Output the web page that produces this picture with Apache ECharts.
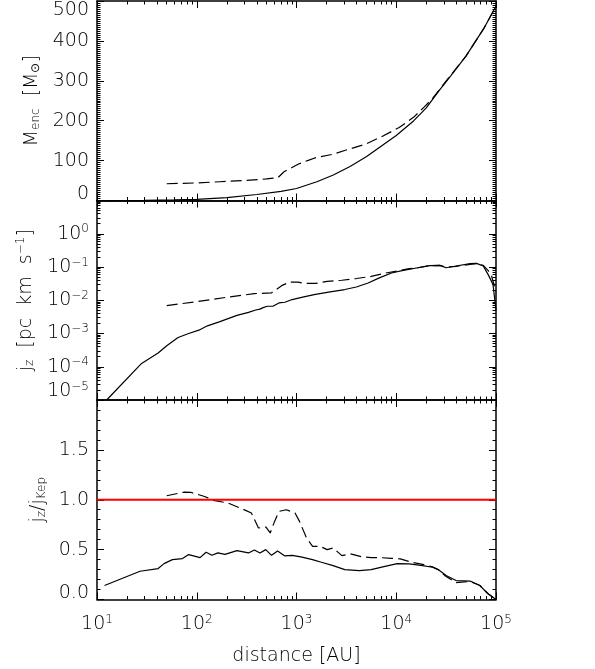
<!DOCTYPE html>
<html><head><meta charset="utf-8">
<script src="https://cdn.jsdelivr.net/npm/echarts@6/dist/echarts.min.js"></script>
<style>html,body{margin:0;padding:0;background:#fff}#c{width:595px;height:669px}</style>
</head><body><div id="c"></div>
<script>
// ---------------- data ----------------
// x: distance [AU]
const xTickValues = [10, 100, 1000, 10000, 100000];

// Panel 1: enclosed mass [Msun]
const mencTicks = [0, 100, 200, 300, 400, 500];
const xMencSolid = [12, 30, 60, 100, 200, 400, 700, 1000, 1600, 2340, 3440, 5050, 7400, 10000, 15000, 20000, 27000, 35000, 50000, 75000, 100000];
const mencSolid  = [0, 0.5, 1.5, 3, 7, 15, 23, 30, 47, 64, 85, 110, 140, 163, 200, 232, 276, 312, 362, 430, 487];
const xMencDashed = [50, 100, 170, 300, 500, 650, 750, 1035, 1290, 1550, 2330, 3390, 4910, 7130, 10700, 15000, 19000, 23000, 30000, 50000, 75000, 100000];
const mencDashed  = [42, 44, 47, 50, 54, 57, 72, 91, 100, 107, 116, 129, 141, 160, 183, 209, 234, 255, 292, 362, 430, 487];

// Panel 2: j_z [pc km/s]
const jzTicks = [1e-5, 1e-4, 1e-3, 1e-2, 1e-1, 1, 10];
const jzLabelTicks = [1e-5, 1e-4, 1e-3, 1e-2, 1e-1, 1];
const xJzSolid = [12.5, 28, 41, 50, 65, 83, 105, 128, 168, 253, 330, 390, 430, 463, 510, 580, 667, 764, 904, 1183, 1549, 2173, 3048, 3981, 5224, 6855, 8974, 11750, 16480, 21580, 27300, 31600, 39800, 55000, 63800, 74500, 83200, 93300, 100000];
const jzSolid  = [1.0e-5, 1.26e-4, 2.6e-4, 4.3e-4, 7.6e-4, 1.0e-3, 1.26e-3, 1.7e-3, 2.24e-3, 3.5e-3, 4.3e-3, 5.1e-3, 5.4e-3, 6.0e-3, 6.6e-3, 6.6e-3, 8.3e-3, 8.7e-3, 1.05e-2, 1.26e-2, 1.5e-2, 1.78e-2, 2.1e-2, 2.5e-2, 3.3e-2, 4.8e-2, 6.6e-2, 7.9e-2, 9.5e-2, 0.11, 0.112, 0.095, 0.107, 0.126, 0.129, 0.107, 0.060, 0.030, 0.005];
const xJzDashed = [50, 100, 200, 376, 450, 560, 710, 850, 1035, 1220, 1550, 2030, 2850, 3980, 5600, 7830, 10960, 13500, 16480, 21580, 27300, 31600, 39800, 55000, 63800, 74500, 83200, 90000, 100000];
const jzDashed  = [6.9e-3, 9.1e-3, 1.23e-2, 1.58e-2, 1.62e-2, 1.66e-2, 2.75e-2, 3.5e-2, 3.5e-2, 3.2e-2, 3.2e-2, 3.7e-2, 4.0e-2, 4.5e-2, 5.2e-2, 6.6e-2, 7.9e-2, 8.9e-2, 9.5e-2, 0.11, 0.112, 0.10, 0.105, 0.12, 0.126, 0.112, 0.079, 0.056, 0.018];

// Panel 3: j_z / j_Kep
const ratioTicks = [0, 0.5, 1.0, 1.5, 2.0];
const xRatioSolid = [11.9, 27, 41, 47, 57, 72, 83, 108, 124, 142, 163, 192, 253, 330, 378, 430, 492, 562, 646, 764, 904, 1107, 1445, 1778, 2328, 3048, 4266, 5598, 7328, 10230, 13490, 17620, 23100, 26300, 31600, 39800, 55000, 69000, 83000, 100000];
const ratioSolid  = [0.14, 0.283, 0.31, 0.36, 0.40, 0.41, 0.45, 0.42, 0.473, 0.443, 0.467, 0.453, 0.49, 0.467, 0.497, 0.467, 0.50, 0.443, 0.487, 0.437, 0.443, 0.427, 0.40, 0.373, 0.34, 0.30, 0.29, 0.30, 0.327, 0.36, 0.357, 0.343, 0.323, 0.30, 0.24, 0.19, 0.185, 0.14, 0.057, 0.0];
const xRatioDashed = [50, 75, 88, 120, 147, 206, 288, 353, 416, 492, 545, 603, 667, 789, 967, 1072, 1260, 1450, 1720, 2030, 2330, 2850, 3470, 4570, 5600, 6860, 8970, 10960, 14390, 18880, 23100, 26300, 31600, 39800, 55000, 69000, 83000, 100000];
const ratioDashed  = [1.04, 1.077, 1.073, 1.033, 0.993, 0.967, 0.907, 0.867, 0.717, 0.727, 0.667, 0.783, 0.883, 0.90, 0.867, 0.783, 0.617, 0.533, 0.533, 0.50, 0.517, 0.44, 0.457, 0.427, 0.42, 0.42, 0.413, 0.407, 0.373, 0.35, 0.327, 0.30, 0.23, 0.17, 0.18, 0.14, 0.06, 0.0];
const kepX = [10, 100000];
const kepY = [1.0, 1.0];

// ---------------- helpers ----------------
const FONT = 'DejaVu Sans';
const FW = 200;
const FS = 19;
const SS = 12;
const TXT = '#000';
const zip = (a, b) => a.map((v, i) => [v, b[i]]);
function logMinors(lo, hi) {
  const out = [];
  for (let e = lo; e < hi; e++) for (let k = 2; k <= 9; k++) out.push(Number((k * Math.pow(10, e)).toPrecision(6)));
  return out;
}
function linMinors(majors, n) {
  const out = [];
  for (let i = 0; i < majors.length - 1; i++) {
    const s = (majors[i + 1] - majors[i]) / n;
    for (let k = 1; k < n; k++) out.push(Number((majors[i] + k * s).toPrecision(8)));
  }
  return out;
}
const base = { fontFamily: FONT, fontWeight: FW, color: TXT };
const rich = {
  b:  Object.assign({ fontSize: FS }, base),
  s:  Object.assign({ fontSize: SS, verticalAlign: 'top', padding: [0, 0, 9, 0] }, base),
  bl: Object.assign({ fontSize: FS, padding: [0, 0, 18, 0] }, base),
  sl: Object.assign({ fontSize: SS, padding: [0, 0, 27, 0] }, base),
  n:  Object.assign({ fontSize: FS }, base),
  lo: Object.assign({ fontSize: FS, padding: [0, 0, 13, 0] }, base),
  hi: Object.assign({ fontSize: FS, padding: [18, 0, 0, 0] }, base),
  sub: Object.assign({ fontSize: SS, verticalAlign: 'bottom', padding: [8, 0, 0, 0] }, base),
  sup: Object.assign({ fontSize: SS, verticalAlign: 'top', padding: [0, 0, 9, 0] }, base)
};
function expStr(v) { const e = Math.round(Math.log10(v)); return (e < 0 ? '\u2212' + (-e) : '' + e); }

const rects = [
  { left: 97, right: 99, top: 1, height: 199.5 },
  { left: 97, right: 99, top: 200.5, height: 199.5 },
  { left: 97, right: 99, top: 400, height: 199.5 }
];
// grids 0-2: major ticks + data; grids 3-5: same rectangles, minor ticks only
const grids = rects.concat(rects.map(r => Object.assign({}, r)));
const xMinor = logMinors(1, 5);

function axisDef(gi, type, min, max, position, isMajor, ticks) {
  return {
    gridIndex: gi, type: type, min: min, max: max, position: position,
    axisLine: { show: isMajor, onZero: false, lineStyle: { color: '#000', width: 1.5 } },
    axisTick: { show: true, inside: true, length: isMajor ? 7 : 3.5, customValues: ticks, lineStyle: { color: '#000', width: 1 } },
    axisLabel: { show: false },
    splitLine: { show: false }, minorTick: { show: false }, minorSplitLine: { show: false },
    silent: true
  };
}
const xAxes = [], yAxes = [];
// major x axes (index gi*2 bottom, gi*2+1 top)
for (let gi = 0; gi < 3; gi++) {
  const xb = axisDef(gi, 'log', 10, 100000, 'bottom', true, xTickValues);
  if (gi === 2) {
    xb.axisLabel = { show: true, margin: 14, customValues: xTickValues,
      formatter: v => '{b|10}{s|' + expStr(v) + '}', rich: rich };
    xb.name = 'distance [AU]';
    xb.nameLocation = 'middle';
    xb.nameGap = 47;
    xb.nameTextStyle = Object.assign({ fontSize: FS }, base);
  }
  xAxes.push(xb, axisDef(gi, 'log', 10, 100000, 'top', true, xTickValues));
}
// minor x axes
for (let gi = 0; gi < 3; gi++) {
  xAxes.push(axisDef(gi + 3, 'log', 10, 100000, 'bottom', false, xMinor),
             axisDef(gi + 3, 'log', 10, 100000, 'top', false, xMinor));
}
// major y axes
{
  const yl = axisDef(0, 'value', 0, 500, 'left', true, mencTicks);
  yl.axisLabel = { show: true, margin: 8, customValues: mencTicks, rich: rich,
    formatter: v => v === 0 ? '{lo|0}' : (v === 500 ? '{hi|500}' : '{n|' + v + '}') };
  yl.name = '{n|M}{sub|enc}{n|  [M}{sub|\u2299}{n|]}';
  yl.nameLocation = 'middle'; yl.nameRotate = 90; yl.nameGap = 55;
  yl.nameTextStyle = { rich: rich };
  yAxes.push(yl, axisDef(0, 'value', 0, 500, 'right', true, mencTicks));
}
{
  const yl = axisDef(1, 'log', 1e-5, 10, 'left', true, jzTicks);
  yl.axisLabel = { show: true, margin: 8, customValues: jzLabelTicks, rich: rich,
    formatter: v => Math.round(Math.log10(v)) === -5 ? '{bl|10}{sl|\u22125}' : '{b|10}{s|' + expStr(v) + '}' };
  yl.name = '{n|j}{sub|z}{n|  [pc  km  s}{sup|\u22121}{n|]}';
  yl.nameLocation = 'middle'; yl.nameRotate = 90; yl.nameGap = 60;
  yl.nameTextStyle = { rich: rich };
  yAxes.push(yl, axisDef(1, 'log', 1e-5, 10, 'right', true, jzTicks));
}
{
  const yl = axisDef(2, 'value', 0, 2, 'left', true, ratioTicks);
  yl.axisLabel = { show: true, margin: 8, customValues: ratioTicks.slice(0, 4), rich: rich,
    formatter: v => v === 0 ? '{lo|0.0}' : '{n|' + v.toFixed(1) + '}' };
  yl.name = '{n|j}{sub|z}{n|/j}{sub|Kep}';
  yl.nameLocation = 'middle'; yl.nameRotate = 90; yl.nameGap = 47;
  yl.nameTextStyle = { rich: rich };
  yAxes.push(yl, axisDef(2, 'value', 0, 2, 'right', true, ratioTicks));
}
// minor y axes
{
  const m0 = linMinors(mencTicks, 20), m1 = logMinors(-5, 1), m2 = linMinors(ratioTicks, 5);
  yAxes.push(axisDef(3, 'value', 0, 500, 'left', false, m0), axisDef(3, 'value', 0, 500, 'right', false, m0));
  yAxes.push(axisDef(4, 'log', 1e-5, 10, 'left', false, m1), axisDef(4, 'log', 1e-5, 10, 'right', false, m1));
  yAxes.push(axisDef(5, 'value', 0, 2, 'left', false, m2), axisDef(5, 'value', 0, 2, 'right', false, m2));
}

const solid = { color: '#000', width: 1.2, type: 'solid' };
const dashed = { color: '#000', width: 1.2, type: [11, 5] };
function line(gi, data, style) {
  return { type: 'line', xAxisIndex: gi * 2, yAxisIndex: gi * 2, data: data, showSymbol: false, symbol: 'none',
    lineStyle: style, silent: true, animation: false, clip: true };
}
const option = {
  animation: false,
  textStyle: { fontFamily: FONT },
  grid: grids,
  xAxis: xAxes,
  yAxis: yAxes,
  series: [
    line(0, zip(xMencSolid, mencSolid), solid),
    line(0, zip(xMencDashed, mencDashed), dashed),
    line(1, zip(xJzSolid, jzSolid), solid),
    line(1, zip(xJzDashed, jzDashed), dashed),
    line(2, zip(xRatioSolid, ratioSolid), solid),
    line(2, zip(xRatioDashed, ratioDashed), dashed),
    line(2, zip(kepX, kepY), { color: '#ff0000', width: 2, type: 'solid' })
  ]
};
const chart = echarts.init(document.getElementById('c'), null, { renderer: 'canvas' });
chart.setOption(option);
</script>
</body></html>
